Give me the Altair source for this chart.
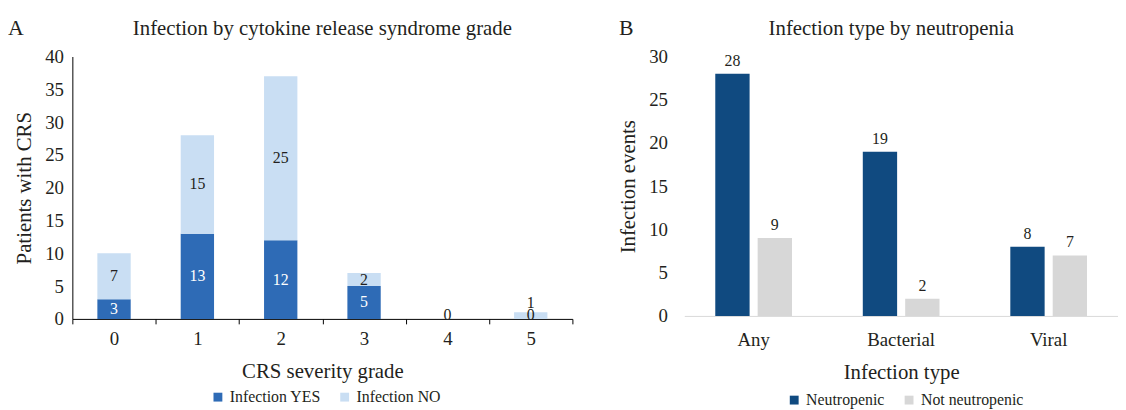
import altair as alt
import pandas as pd

# ---- data ----
grades = ["0", "1", "2", "3", "4", "5"]
infection_yes = [3, 13, 12, 5, 0, 0]
infection_no = [7, 15, 25, 2, 0, 1]
series_a = ["Infection YES", "Infection NO"]

types = ["Any", "Bacterial", "Viral"]
neutropenic = [28, 19, 8]
not_neutropenic = [9, 2, 7]
series_b = ["Neutropenic", "Not neutropenic"]

panel_letters = ["A", "B"]

FONT = "Liberation Serif"
TXT = "#231f20"

rows_a = []
for g, y, n in zip(grades, infection_yes, infection_no):
    rows_a.append({"grade": g, "series": series_a[0], "value": y, "ord": 0})
    rows_a.append({"grade": g, "series": series_a[1], "value": n, "ord": 1})
dfa = pd.DataFrame(rows_a)

rows_b = []
for t, a, b in zip(types, neutropenic, not_neutropenic):
    rows_b.append({"type": t, "series": series_b[0], "value": a})
    rows_b.append({"type": t, "series": series_b[1], "value": b})
dfb = pd.DataFrame(rows_b)

LEG = dict(title=None, orient="none", direction="horizontal", symbolType="square",
           symbolSize=80, labelFontSize=16, columnPadding=16, symbolStrokeWidth=0)

# ---------------- Panel A ----------------
axis_xa = alt.Axis(title="CRS severity grade", labelAngle=0, tickBand="extent",
                   domainColor="#000000", tickColor="#000000", tickSize=5,
                   labelPadding=6, titlePadding=12, labelFontSize=19, titleFontSize=21)
axis_ya = alt.Axis(title="Patients with CRS", values=list(range(0, 41, 5)), grid=False,
                   ticks=False, domainColor="#000000", labelPadding=9, titlePadding=10,
                   labelFontSize=19, titleFontSize=21, labelOverlap=False)
scale_xa = alt.Scale(paddingInner=0, paddingOuter=0)
scale_ya = alt.Scale(domain=[0, 40], nice=False)

bars_a = alt.Chart(dfa).mark_bar(width=alt.RelativeBandSize(0.4)).encode(
    x=alt.X("grade:N", sort=grades, scale=scale_xa, axis=axis_xa),
    y=alt.Y("value:Q", stack="zero", scale=scale_ya, axis=axis_ya),
    color=alt.Color("series:N", sort=series_a,
                    scale=alt.Scale(domain=series_a, range=["#2e6bb6", "#c9def3"]),
                    legend=alt.Legend(legendX=139, legendY=336, **LEG)),
    order=alt.Order("ord:Q"),
)
stacked = alt.Chart(dfa).transform_stack(
    stack="value", as_=["v0", "v1"], groupby=["grade"], sort=[alt.SortField("ord")]
).transform_calculate(mid="(datum.v0 + datum.v1) / 2")

enc_x = alt.X("grade:N", sort=grades, scale=scale_xa, axis=axis_xa)
lab_in = stacked.transform_filter("datum.value >= 2").mark_text(
    baseline="middle", fontSize=16, font=FONT
).encode(
    x=enc_x,
    y=alt.Y("mid:Q", scale=scale_ya, axis=axis_ya),
    text="value:Q",
    color=alt.Color("series:N", scale=alt.Scale(domain=series_a, range=["#ffffff", TXT]), legend=None),
)
lab_zero_yes = stacked.transform_filter("datum.ord == 0 && datum.value == 0").mark_text(
    baseline="bottom", dy=4, fontSize=16, font=FONT, color=TXT
).encode(x=enc_x, y=alt.Y("v1:Q", scale=scale_ya, axis=axis_ya), text="value:Q")
lab_small_no = stacked.transform_filter("datum.ord == 1 && datum.value == 1").mark_text(
    baseline="bottom", dy=-1, fontSize=16, font=FONT, color=TXT
).encode(x=enc_x, y=alt.Y("v1:Q", scale=scale_ya, axis=axis_ya), text="value:Q")

letter_a = alt.Chart(pd.DataFrame({"t": [panel_letters[0]]})).mark_text(
    fontSize=22, font=FONT, color=TXT, align="left", baseline="alphabetic"
).encode(x=alt.value(-65), y=alt.value(-22), text="t:N")

panel_a = alt.layer(bars_a, lab_in, lab_zero_yes, lab_small_no, letter_a).resolve_scale(
    color="independent"
).properties(
    width=505, height=265,
    title=alt.Title("Infection by cytokine release syndrome grade", fontSize=21, font=FONT,
                    fontWeight="normal", color=TXT, anchor="middle", offset=-22),
)

# ---------------- Panel B ----------------
axis_xb = alt.Axis(title="Infection type", labelAngle=0, ticks=False, domainColor="#d9d9d9",
                   labelPadding=15, titlePadding=12, labelFontSize=19, titleFontSize=21)
axis_yb = alt.Axis(title="Infection events", values=list(range(0, 31, 5)), grid=False,
                   ticks=False, domain=False, labelPadding=17, titlePadding=10,
                   labelFontSize=19, titleFontSize=21, labelOverlap=False)
scale_xb = alt.Scale(paddingInner=0.48, paddingOuter=0.21)
scale_yb = alt.Scale(domain=[0, 30], nice=False)
xob = alt.XOffset("series:N", sort=series_b, scale=alt.Scale(paddingInner=0.19))

bars_b = alt.Chart(dfb).mark_bar().encode(
    x=alt.X("type:N", sort=types, scale=scale_xb, axis=axis_xb),
    xOffset=xob,
    y=alt.Y("value:Q", scale=scale_yb, axis=axis_yb),
    color=alt.Color("series:N", sort=series_b,
                    scale=alt.Scale(domain=series_b, range=["#104a80", "#d7d7d7"]),
                    legend=alt.Legend(legendX=103, legendY=339, **LEG)),
)
lab_b = alt.Chart(dfb).mark_text(baseline="bottom", dy=-5, fontSize=16, font=FONT, color=TXT).encode(
    x=alt.X("type:N", sort=types, scale=scale_xb, axis=axis_xb),
    xOffset=xob,
    y=alt.Y("value:Q", scale=scale_yb, axis=axis_yb),
    text="value:Q",
)
letter_b = alt.Chart(pd.DataFrame({"t": [panel_letters[1]]})).mark_text(
    fontSize=22, font=FONT, color=TXT, align="left", baseline="alphabetic"
).encode(x=alt.value(-66), y=alt.value(-22), text="t:N")

panel_b = alt.layer(bars_b, lab_b, letter_b).properties(
    width=438, height=262,
    title=alt.Title("Infection type by neutropenia", fontSize=21, font=FONT,
                    fontWeight="normal", color=TXT, anchor="middle", offset=-22, dx=-10),
)

chart = alt.hconcat(panel_a, panel_b, spacing=45).resolve_scale(
    color="independent"
).resolve_legend(color="independent").properties(
    padding={"left": 0, "top": 7, "right": 0, "bottom": 0}
).configure(font=FONT).configure_view(stroke=None).configure_axis(
    labelFont=FONT, titleFont=FONT, labelColor=TXT, titleColor=TXT,
    titleFontWeight="normal",
).configure_legend(labelFont=FONT, labelColor=TXT)

chart.save("out.html", embed_options={"renderer": "svg", "actions": False})
